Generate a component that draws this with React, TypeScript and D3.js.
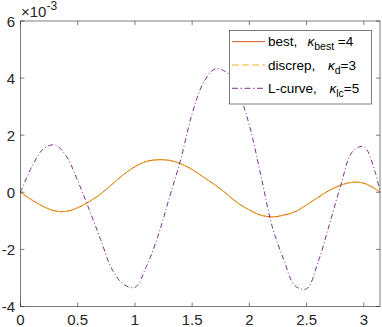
import * as d3 from 'd3';

// sample positions (x in [0, pi])
const xValues = [
  0, 0.1, 0.2, 0.3, 0.4, 0.5, 0.6, 0.7, 0.8, 0.9, 1.0, 1.1, 1.2, 1.3, 1.4, 1.5,
  1.6, 1.7, 1.8, 1.9, 2.0, 2.1, 2.2, 2.3, 2.4, 2.5, 2.6, 2.7, 2.8, 2.9, 3.0, 3.1, 3.1416,
];

// values in units of 1e-3
const bestValues = [
  0, -0.27, -0.5, -0.65, -0.67, -0.54, -0.33, -0.06, 0.28, 0.62, 0.9, 1.08, 1.14, 1.12, 1.0, 0.8,
  0.53, 0.26, -0.05, -0.38, -0.62, -0.8, -0.86, -0.8, -0.68, -0.44, -0.18, 0.07, 0.25, 0.35, 0.32, 0.12, 0,
];
// discrepancy solution lies on top of the best one
const discrepValues = [...bestValues];
const lcurveValues = [
  0, 0.9, 1.52, 1.66, 1.27, 0.4, -0.6, -1.65, -2.7, -3.22, -3.33, -2.6, -1.55, -0.2, 1.15, 2.75,
  3.85, 4.32, 4.2, 3.55, 2.35, 0.6, -1.2, -2.35, -3.28, -3.38, -2.45, -1.12, 0.26, 1.42, 1.6, 0.7, 0,
];

const xTicks = [0, 0.5, 1, 1.5, 2, 2.5, 3];
const yTicks = [-4, -2, 0, 2, 4, 6];

const W = 382;
const H = 327;
const axisColor = '#262626';
const font = '"Liberation Sans", Arial, sans-serif';

export default function App() {
  const x = d3.scaleLinear().domain([0, Math.PI]).range([20.5, 380]);
  const y = d3.scaleLinear().domain([-4, 6]).range([306.5, 21]);

  const line = (vals: number[]) =>
    d3
      .line<number>()
      .x((_, i) => x(xValues[i]))
      .y((d) => y(d))
      .curve(d3.curveCatmullRom)(vals) as string;

  const series = [
    { name: 'best', vals: bestValues, color: '#D95319', dash: undefined },
    { name: 'discrep', vals: discrepValues, color: '#EDB120', dash: '7,2.5' },
    { name: 'lc', vals: lcurveValues, color: '#7E2F8E', dash: '5,2.5,1,2.5' },
  ];

  const [x0, x1] = x.range();
  const [y0, y1] = y.range();
  const tickLen = 4;

  const legendRows = [
    { color: '#D95319', dash: undefined, label: 'best,', kx: 307.5, sub: 'best', tail: ' =4' },
    { color: '#EDB120', dash: '7,3', label: 'discrep,', kx: 328, sub: 'd', tail: '=3' },
    { color: '#7E2F8E', dash: '6,2.5,1.5,2.5', label: 'L-curve,', kx: 329.5, sub: 'lc', tail: '=5' },
  ];

  return (
    <svg
      width={W}
      height={H}
      style={{ position: 'absolute', left: 0, top: 0, background: '#fff' }}
      fontFamily={font}
    >
      <rect x={x0} y={y1} width={x1 - x0} height={y0 - y1} fill="#fff" />

      {series.map((s) => (
        <path
          key={s.name}
          d={line(s.vals)}
          fill="none"
          stroke={s.color}
          strokeWidth={1}
          strokeDasharray={s.dash}
        />
      ))}

      {/* axes box */}
      <rect
        x={x0}
        y={y1}
        width={x1 - x0}
        height={y0 - y1}
        fill="none"
        stroke={axisColor}
        strokeWidth={0.6}
      />

      {xTicks.map((t) => (
        <g key={'x' + t}>
          <line x1={x(t)} x2={x(t)} y1={y0} y2={y0 - tickLen} stroke={axisColor} strokeWidth={0.6} />
          <line x1={x(t)} x2={x(t)} y1={y1} y2={y1 + tickLen} stroke={axisColor} strokeWidth={0.6} />
          <text x={x(t)} y={325} fontSize={15} textAnchor="middle" fill="#262626">
            {t}
          </text>
        </g>
      ))}

      {yTicks.map((t) => (
        <g key={'y' + t}>
          <line x1={x0} x2={x0 + tickLen} y1={y(t)} y2={y(t)} stroke={axisColor} strokeWidth={0.6} />
          <line x1={x1} x2={x1 - tickLen} y1={y(t)} y2={y(t)} stroke={axisColor} strokeWidth={0.6} />
          <text x={15} y={y(t) + 5.5} fontSize={15} textAnchor="end" fill="#262626">
            {t < 0 ? '-' + Math.abs(t) : t}
          </text>
        </g>
      ))}

      {/* exponent label */}
      <text x={21} y={17} fontSize={15} fill="#262626">
        ×10
        <tspan fontSize={12} dy={-7}>
          -3
        </tspan>
      </text>

      {/* legend */}
      <rect x={229.5} y={30.5} width={142} height={73.5} fill="#fff" stroke={axisColor} strokeWidth={0.6} />
      {legendRows.map((r, i) => {
        const cy = 41.7 + i * 23.3;
        return (
          <g key={r.label}>
            <line
              x1={232}
              x2={265}
              y1={cy}
              y2={cy}
              stroke={r.color}
              strokeWidth={1}
              strokeDasharray={r.dash}
            />
            <text x={268} y={cy + 4.5} fontSize={13.5} fill="#000">
              {r.label}
            </text>
            <text x={r.kx} y={cy + 4.5} fontSize={13.5} fill="#000" style={{ whiteSpace: 'pre' }}>
              <tspan fontStyle="italic">κ</tspan>
              <tspan fontSize={10.5} dy={4}>
                {r.sub}
              </tspan>
              <tspan dy={-4}>{r.tail}</tspan>
            </text>
          </g>
        );
      })}
    </svg>
  );
}
